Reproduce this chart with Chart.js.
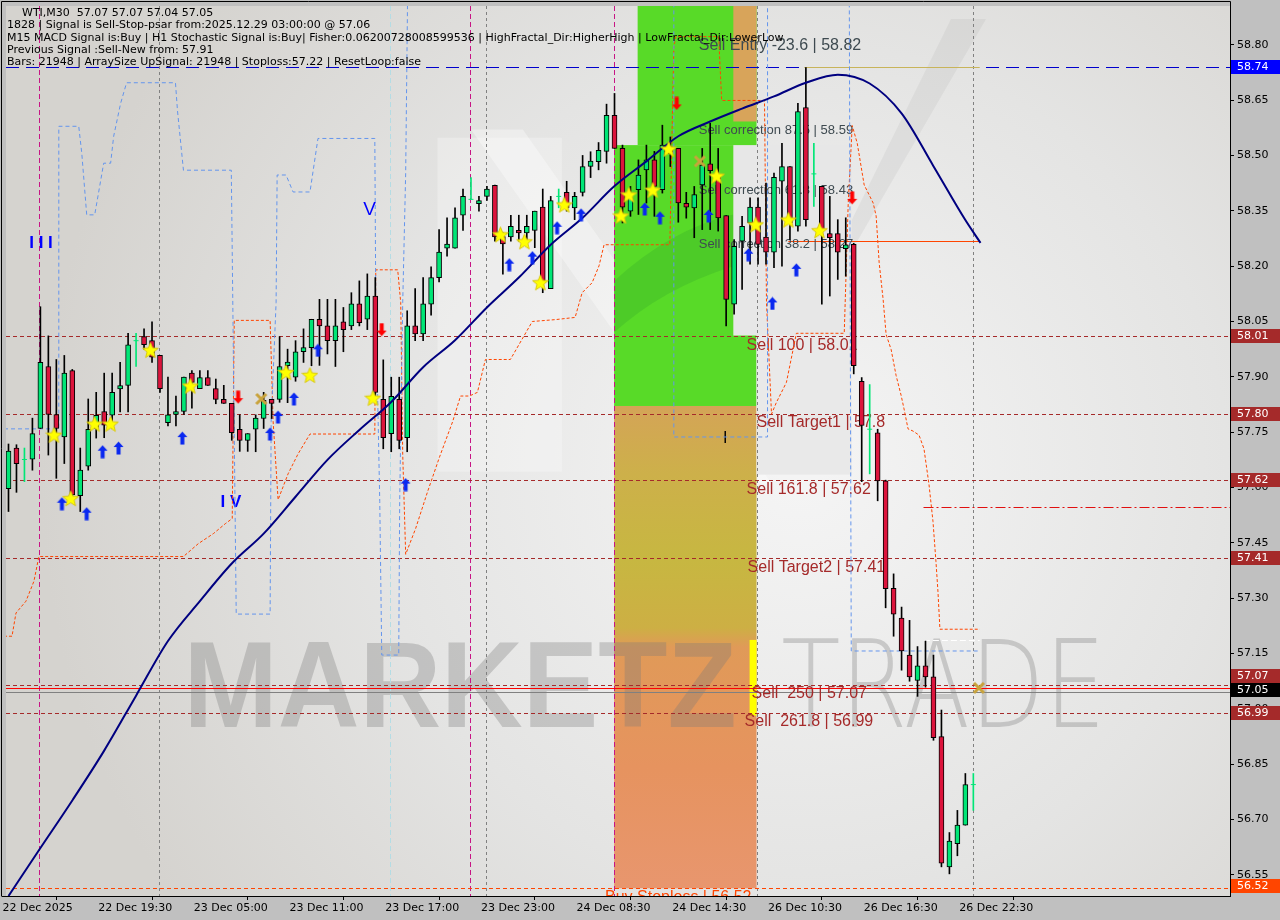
<!DOCTYPE html>
<html>
<head>
<meta charset="utf-8">
<script src="https://cdn.jsdelivr.net/npm/chart.js@4.4.0/dist/chart.umd.min.js"></script>
<style>
html, body { margin: 0; padding: 0; background: #c0c0c0; }
canvas { display: block; }
</style>
</head>
<body>
<canvas id="chart" width="1280" height="920"></canvas>
<script>
// axis ticks
const tickIndex = [0, 12, 24, 36, 48, 60, 72, 84, 96, 108, 120];
const timeLabels = ['22 Dec 2025', '22 Dec 19:30', '23 Dec 05:00', '23 Dec 11:00', '23 Dec 17:00', '23 Dec 23:00',
    '24 Dec 08:30', '24 Dec 14:30', '26 Dec 10:30', '26 Dec 16:30', '26 Dec 22:30'];
const priceTicks = [56.55, 56.70, 56.85, 57.00, 57.15, 57.30, 57.45, 57.60, 57.75, 57.90, 58.05, 58.20, 58.35, 58.50, 58.65, 58.80];

// WTI M30 candles
const opens = [57.597, 57.707, 57.676, 57.677, 57.760, 57.928, 57.798, 57.737, 57.917, 57.578,
    57.658, 57.760, 57.806, 57.796, 57.867, 57.877, 57.998, 58.009, 57.998, 57.958,
    57.776, 57.798, 57.806, 57.910, 57.868, 57.898, 57.868, 57.839, 57.828, 57.758,
    57.728, 57.758, 57.787, 57.839, 57.839, 57.930, 57.899, 57.968, 57.979, 58.056,
    58.038, 57.998, 58.049, 58.038, 58.098, 58.056, 58.119, 57.839, 57.746, 57.839,
    57.735, 58.038, 58.016, 58.097, 58.169, 58.249, 58.249, 58.338, 58.381, 58.369,
    58.389, 58.419, 58.280, 58.279, 58.297, 58.290, 58.297, 58.360, 58.139, 58.389,
    58.400, 58.358, 58.400, 58.470, 58.483, 58.511, 58.609, 58.519, 58.349, 58.407,
    58.461, 58.488, 58.407, 58.520, 58.519, 58.370, 58.358, 58.420, 58.477, 58.443,
    58.337, 58.097, 58.268, 58.317, 58.360, 58.279, 58.238, 58.430, 58.470, 58.308,
    58.630, 58.450, 58.416, 58.288, 58.288, 58.247, 58.259, 57.888, 57.758, 57.748,
    57.618, 57.327, 57.246, 57.146, 57.077, 57.117, 57.087, 56.925, 56.572, 56.635,
    56.685, 56.795];
const highs = [57.718, 57.716, 57.707, 57.788, 58.090, 58.011, 57.947, 57.958, 57.920, 57.707,
    57.840, 57.858, 57.910, 57.910, 57.939, 58.018, 58.018, 58.030, 58.049, 57.958,
    57.899, 57.848, 57.899, 57.917, 57.917, 57.917, 57.894, 57.877, 57.828, 57.797,
    57.746, 57.797, 57.858, 57.839, 58.009, 57.975, 57.998, 58.030, 58.056, 58.110,
    58.110, 58.110, 58.088, 58.128, 58.160, 58.179, 58.169, 57.946, 57.899, 57.899,
    58.079, 58.139, 58.169, 58.198, 58.299, 58.331, 58.358, 58.409, 58.440, 58.389,
    58.416, 58.420, 58.290, 58.338, 58.338, 58.338, 58.349, 58.409, 58.389, 58.409,
    58.430, 58.400, 58.500, 58.510, 58.535, 58.639, 58.668, 58.528, 58.416, 58.488,
    58.528, 58.511, 58.582, 58.550, 58.519, 58.400, 58.416, 58.519, 58.587, 58.519,
    58.337, 58.272, 58.335, 58.385, 58.385, 58.425, 58.452, 58.533, 58.470, 58.641,
    58.738, 58.533, 58.416, 58.389, 58.326, 58.331, 58.262, 57.898, 57.879, 57.758,
    57.620, 57.366, 57.276, 57.240, 57.169, 57.184, 57.146, 56.997, 56.665, 56.725,
    56.825, 56.825];
const lows = [57.535, 57.587, 57.616, 57.647, 57.760, 57.688, 57.625, 57.665, 57.565, 57.535,
    57.647, 57.734, 57.735, 57.760, 57.805, 57.805, 57.928, 57.975, 57.939, 57.858,
    57.767, 57.767, 57.798, 57.815, 57.868, 57.877, 57.827, 57.828, 57.728, 57.698,
    57.698, 57.697, 57.760, 57.787, 57.831, 57.830, 57.888, 57.939, 57.930, 57.931,
    57.962, 57.928, 57.968, 58.028, 58.038, 58.028, 57.840, 57.705, 57.697, 57.705,
    57.697, 57.998, 57.998, 58.067, 58.157, 58.227, 58.249, 58.297, 58.381, 58.349,
    58.378, 58.268, 58.178, 58.268, 58.268, 58.268, 58.250, 58.128, 58.139, 58.358,
    58.349, 58.326, 58.390, 58.440, 58.461, 58.479, 58.519, 58.317, 58.335, 58.340,
    58.371, 58.335, 58.398, 58.470, 58.319, 58.330, 58.277, 58.299, 58.299, 58.295,
    58.038, 58.070, 58.137, 58.205, 58.205, 58.205, 58.196, 58.200, 58.272, 58.295,
    58.308, 58.362, 58.097, 58.119, 58.164, 58.173, 57.908, 57.616, 57.637, 57.564,
    57.274, 57.197, 57.105, 57.075, 57.034, 57.059, 56.915, 56.572, 56.553, 56.602,
    56.685, 56.725];
const closes = [57.699, 57.665, 57.676, 57.746, 57.939, 57.798, 57.760, 57.910, 57.580, 57.647,
    57.758, 57.796, 57.769, 57.858, 57.876, 57.987, 57.998, 57.987, 57.953, 57.868,
    57.797, 57.806, 57.899, 57.885, 57.898, 57.877, 57.839, 57.828, 57.749, 57.728,
    57.746, 57.788, 57.836, 57.828, 57.928, 57.940, 57.968, 57.979, 58.056, 58.038,
    57.998, 58.038, 58.028, 58.098, 58.047, 58.119, 57.858, 57.735, 57.847, 57.728,
    58.038, 58.016, 58.098, 58.169, 58.238, 58.260, 58.331, 58.389, 58.381, 58.378,
    58.409, 58.279, 58.260, 58.308, 58.290, 58.308, 58.349, 58.155, 58.378, 58.389,
    58.358, 58.389, 58.470, 58.485, 58.514, 58.609, 58.519, 58.360, 58.385, 58.447,
    58.488, 58.416, 58.528, 58.505, 58.371, 58.360, 58.394, 58.474, 58.459, 58.331,
    58.110, 58.254, 58.308, 58.360, 58.259, 58.238, 58.441, 58.470, 58.317, 58.619,
    58.326, 58.450, 58.299, 58.277, 58.238, 58.258, 57.930, 57.768, 57.758, 57.618,
    57.326, 57.257, 57.157, 57.087, 57.117, 57.087, 56.922, 56.582, 56.642, 56.685,
    56.795, 56.795];

// moving average (bar index, price)
const maIndex = [0, 4, 8, 12, 16, 20, 24, 28, 32, 36, 40, 44, 48, 52, 56, 60, 64, 68, 72, 76,
    80, 84, 88, 92, 96, 100, 104, 108, 112, 116, 120, 121.9];
const maValues = [56.493, 56.623, 56.752, 56.887, 57.036, 57.184, 57.292, 57.394, 57.475, 57.575,
    57.675, 57.756, 57.832, 57.926, 57.999, 58.088, 58.169, 58.258, 58.331, 58.417,
    58.484, 58.552, 58.592, 58.627, 58.660, 58.697, 58.719, 58.695, 58.614, 58.471, 58.325, 58.263];

// fractal channel (blue dashed) and trailing stop (orange dashed), [bar index, price]
const blueBandA = [[-0.56, 57.759], [5.69, 57.759], [6.31, 57.759], [6.31, 58.579], [8.81, 58.579], [9.19, 58.506],
    [9.81, 58.339], [10.81, 58.339], [11.94, 58.479], [12.81, 58.479], [13.19, 58.552], [14.06, 58.641],
    [14.81, 58.697], [20.94, 58.697], [21.19, 58.622], [21.94, 58.460], [27.94, 58.460], [28.06, 58.236],
    [28.56, 57.257], [32.81, 57.257], [32.94, 57.778], [33.56, 58.101], [33.69, 58.447], [34.81, 58.447],
    [35.69, 58.401], [37.81, 58.401], [38.81, 58.546], [45.94, 58.546], [46.06, 58.101], [46.56, 57.562],
    [46.81, 57.146], [48.94, 57.146], [49.06, 57.562], [49.44, 58.101], [49.81, 58.452], [50.06, 58.95]];
const blueBandB = [[83.44, 58.95], [83.44, 57.737], [95.19, 57.737], [95.19, 58.95]];
const blueBandC = [[105.44, 58.95], [105.69, 57.157], [121.81, 57.157]];
const stopBand = [[-0.56, 57.197], [0.44, 57.197], [0.94, 57.260], [2.19, 57.292], [3.19, 57.346], [3.81, 57.413],
    [21.94, 57.413], [23.81, 57.448], [25.69, 57.475], [27.19, 57.502], [28.06, 57.516], [28.31, 58.053],
    [32.81, 58.053], [33.19, 57.778], [33.81, 57.567], [35.06, 57.637], [36.31, 57.691], [37.81, 57.745],
    [45.94, 57.745], [46.06, 58.190], [48.81, 58.190], [49.19, 58.101], [49.44, 57.689], [49.81, 57.419],
    [51.06, 57.489], [52.56, 57.589], [54.06, 57.683], [55.69, 57.778], [56.69, 57.848], [57.81, 57.848],
    [58.81, 57.858], [59.81, 57.947], [62.94, 57.947], [65.69, 58.050], [68.56, 58.055], [71.06, 58.061],
    [71.94, 58.128], [73.19, 58.155], [74.06, 58.201], [74.69, 58.258], [82.94, 58.258], [83.19, 58.533],
    [83.44, 58.795], [83.69, 58.822], [89.06, 58.822], [89.44, 58.649], [94.81, 58.649], [95.06, 58.101],
    [95.69, 57.799], [96.31, 57.831], [97.56, 57.885], [98.81, 58.018], [104.81, 58.018], [105.31, 58.371],
    [105.81, 58.581], [106.44, 58.533], [107.31, 58.420], [108.44, 58.371], [108.81, 58.336], [109.19, 58.209],
    [109.69, 58.109], [110.06, 58.015], [110.69, 57.974], [111.31, 57.904], [111.94, 57.850], [112.31, 57.813],
    [112.81, 57.759], [113.44, 57.753], [114.19, 57.742], [114.81, 57.705], [115.44, 57.608], [115.94, 57.508],
    [116.31, 57.400], [116.56, 57.319], [116.81, 57.216], [121.81, 57.216]];

// signal markers [bar index, price]
const starMarks = [[5.7, 57.742], [7.8, 57.570], [10.8, 57.772], [12.8, 57.772], [17.8, 57.972], [22.8, 57.875],
    [34.8, 57.912], [37.8, 57.904], [45.7, 57.842], [61.7, 58.285], [64.7, 58.266], [66.7, 58.155],
    [69.7, 58.366], [76.8, 58.336], [77.8, 58.393], [80.8, 58.406], [82.8, 58.517], [88.8, 58.444],
    [93.7, 58.312], [97.8, 58.325], [101.7, 58.296]];
const upArrows = [[6.7, 57.556], [9.8, 57.529], [11.8, 57.697], [13.8, 57.707], [21.8, 57.734], [32.8, 57.745],
    [33.8, 57.791], [35.8, 57.840], [38.8, 57.972], [49.8, 57.608], [62.8, 58.204], [65.7, 58.223],
    [68.8, 58.304], [71.8, 58.339], [79.8, 58.355], [81.7, 58.331], [87.8, 58.336], [92.8, 58.231],
    [95.8, 58.099], [98.8, 58.190]];
const downArrows = [[28.8, 57.845], [46.8, 58.028], [83.8, 58.641], [105.8, 58.385]];
const crossMarks = [[31.7, 57.840], [86.7, 58.484], [121.7, 57.057]];

// levels
const levelLines = [58.01, 57.80, 57.62, 57.41, 57.065, 56.99];
const entryLine = 58.74;
const stopLine = 56.514;
const bidLine = 57.046;
const redLine = 57.057;
const levelTexts = ['Sell Entry -23.6 | 58.82', 'Sell correction 87.5 | 58.59', 'Sell correction 61.8 | 58.43',
    'Sell correction 38.2 | 58.27', 'Sell 100 | 58.01', 'Sell Target1 | 57.8', 'Sell 161.8 | 57.62',
    'Sell Target2 | 57.41', 'Sell  250 | 57.07', 'Sell  261.8 | 56.99', 'Buy Stoploss | 56.52'];
const levelTextAt = [[86.56, 58.797], [86.56, 58.568], [86.56, 58.406], [86.56, 58.258], [92.56, 57.985],
    [93.81, 57.775], [92.56, 57.594], [92.69, 57.384], [93.19, 57.041], [92.31, 56.965], [74.81, 56.49]];
const axisBoxes = [58.74, 58.01, 57.80, 57.62, 57.41, 57.05, 57.07, 56.99, 56.52];
const headerLines = ['WTI,M30  57.07 57.07 57.04 57.05',
    '1828 | Signal is Sell-Stop-psar from:2025.12.29 03:00:00 @ 57.06',
    'M15 MACD Signal is:Buy | H1 Stochastic Signal is:Buy| Fisher:0.06200728008599536 | HighFractal_Dir:HigherHigh | LowFractal_Dir:LowerLow',
    'Previous Signal :Sell-New from: 57.91',
    'Bars: 21948 | ArraySize UpSignal: 21948 | Stoploss:57.22 | ResetLoop:false'];

const X_MIN = -0.3125, X_MAX = 153.1875, Y_MIN = 56.493, Y_MAX = 58.905;
const GREEN = '#00E676', RED = '#DC143C', LEVEL = '#A52A2A';

function pairs(arr) { return arr.map(p => ({ x: p[0], y: p[1] })); }

function makeStar() {
    const c = document.createElement('canvas');
    c.width = 17; c.height = 17;
    const g = c.getContext('2d');
    g.beginPath();
    for (let k = 0; k < 10; k++) {
        const a = -Math.PI / 2 + k * Math.PI / 5;
        const r = k % 2 ? 3.6 : 8.2;
        g.lineTo(8.5 + r * Math.cos(a), 9 + r * Math.sin(a));
    }
    g.closePath();
    g.fillStyle = '#FFFF00';
    g.fill();
    g.strokeStyle = '#D8C810';
    g.lineWidth = 1;
    g.stroke();
    return c;
}

function makeArrow(color, down) {
    const c = document.createElement('canvas');
    c.width = 11; c.height = 14;
    const g = c.getContext('2d');
    if (down) { g.translate(0, 14); g.scale(1, -1); }
    g.beginPath();
    g.moveTo(5.5, 0.5); g.lineTo(10.5, 6); g.lineTo(7.5, 6); g.lineTo(7.5, 13.5);
    g.lineTo(3.5, 13.5); g.lineTo(3.5, 6); g.lineTo(0.5, 6); g.closePath();
    g.fillStyle = color;
    g.fill();
    return c;
}

function makeCross() {
    const c = document.createElement('canvas');
    c.width = 14; c.height = 14;
    const g = c.getContext('2d');
    g.strokeStyle = '#C9A33C';
    g.lineWidth = 3;
    g.beginPath();
    g.moveTo(2, 2); g.lineTo(12, 12);
    g.moveTo(12, 2); g.lineTo(2, 12);
    g.stroke();
    return c;
}

const wickData = [], bodyData = [], wickColors = [], bodyColors = [], dojiData = [];
for (let i = 0; i < opens.length; i++) {
    const doji = opens[i] === closes[i];
    wickData.push({ x: i, y: [lows[i], highs[i]] });
    wickColors.push(doji ? GREEN : '#000000');
    if (doji) {
        bodyData.push({ x: i, y: null });
        dojiData.push({ x: i, y: opens[i] });
    } else {
        bodyData.push({ x: i, y: [opens[i], closes[i]] });
    }
    bodyColors.push(closes[i] >= opens[i] ? GREEN : RED);
}
const maData = maIndex.map((v, k) => ({ x: v, y: maValues[k] }));

function hLine(ctx, area, y, x0, x1, color, dash, width) {
    ctx.save();
    ctx.strokeStyle = color;
    ctx.lineWidth = width || 1;
    ctx.setLineDash(dash || []);
    const yy = Math.round(y) + 0.5;
    ctx.beginPath();
    ctx.moveTo(Math.max(x0, area.left), yy);
    ctx.lineTo(Math.min(x1, area.right), yy);
    ctx.stroke();
    ctx.restore();
}

function vLine(ctx, area, x, color, dash) {
    ctx.save();
    ctx.strokeStyle = color;
    ctx.lineWidth = 1;
    ctx.setLineDash(dash);
    const xx = Math.round(x) + 0.5;
    ctx.beginPath();
    ctx.moveTo(xx, area.top);
    ctx.lineTo(xx, area.bottom);
    ctx.stroke();
    ctx.restore();
}

const mt4Plugin = {
    id: 'mt4',
    beforeDraw(chart) {
        const { ctx, chartArea: a } = chart;
        ctx.save();
        ctx.fillStyle = '#C0C0C0';
        ctx.fillRect(0, 0, chart.width, chart.height);
        const g = ctx.createRadialGradient(800, 470, 20, 800, 470, 760);
        g.addColorStop(0, '#F4F4F4');
        g.addColorStop(0.55, '#E4E4E3');
        g.addColorStop(1, '#D5D3CF');
        ctx.fillStyle = g;
        ctx.fillRect(a.left, a.top, a.right - a.left, a.bottom - a.top);
        ctx.restore();
    },
    beforeDatasetsDraw(chart) {
        const { ctx, chartArea: a } = chart;
        const xs = chart.scales.x, ys = chart.scales.y;
        const X = v => xs.getPixelForValue(v), Y = v => ys.getPixelForValue(v);
        ctx.save();
        ctx.beginPath();
        ctx.rect(a.left, a.top, a.right - a.left, a.bottom - a.top);
        ctx.clip();

        const rect = (i0, i1, p0, p1, fill) => {
            ctx.fillStyle = fill;
            ctx.fillRect(X(i0), Y(p0), X(i1) - X(i0), Y(p1) - Y(p0));
        };
        // background logo hints
        rect(53.8, 69.4, 58.548, 57.643, 'rgba(255,255,255,0.28)');
        ctx.fillStyle = 'rgba(255,255,255,0.35)';
        ctx.beginPath();
        ctx.moveTo(X(58), Y(58.57)); ctx.lineTo(X(64.5), Y(58.57)); ctx.lineTo(X(95.7), Y(57.61)); ctx.lineTo(X(89.4), Y(57.61));
        ctx.closePath(); ctx.fill();
        ctx.fillStyle = 'rgba(150,150,150,0.12)';
        ctx.beginPath();
        ctx.moveTo(X(118.2), Y(58.87)); ctx.lineTo(X(122.6), Y(58.87)); ctx.lineTo(X(105.7), Y(58.24)); ctx.lineTo(X(103.8), Y(58.24));
        ctx.closePath(); ctx.fill();

        // signal zone
        const og = ctx.createLinearGradient(0, Y(57.821), 0, Y(56.514));
        og.addColorStop(0, '#D4A457');
        og.addColorStop(0.14, '#CDB04A');
        og.addColorStop(0.32, '#C7B741');
        og.addColorStop(0.46, '#CDAF44');
        og.addColorStop(0.5, '#E09A58');
        og.addColorStop(0.75, '#E6935F');
        og.addColorStop(1, '#E8966E');
        rect(75.95, 93.81, 57.821, 56.514, og);
        rect(78.9, 93.81, Y_MAX, 58.528, '#58DA28');
        rect(75.95, 93.81, 58.528, 57.821, '#58DA28');
        // darker crescent inside the green block
        ctx.fillStyle = 'rgba(40,150,40,0.22)';
        ctx.beginPath();
        ctx.moveTo(X(75.95), Y(58.16));
        ctx.quadraticCurveTo(X(83), Y(58.30), X(90.9), Y(58.34));
        ctx.lineTo(X(90.9), Y(58.20));
        ctx.quadraticCurveTo(X(82), Y(58.14), X(75.95), Y(58.02));
        ctx.closePath(); ctx.fill();
        rect(90.9, 93.81, Y_MAX, 58.592, '#D8A45A');
        rect(90.9, 105.75, 58.528, 58.012, '#E7E7E7');
        rect(93.81, 105.75, 58.012, 57.635, '#E9E9E9');
        rect(92.94, 93.81, 57.187, 56.982, '#FFFF00');

        // watermark
        ctx.fillStyle = 'rgba(120,120,120,0.32)';
        ctx.textBaseline = 'alphabetic';
        ctx.font = 'bold 122px "Liberation Sans", Arial, sans-serif';
        let w = ctx.measureText('MARKETZ').width;
        ctx.save();
        ctx.translate(X(21.94), Y(56.952));
        ctx.scale((X(91.3) - X(21.94)) / w, 1);
        ctx.fillText('MARKETZ', 0, 0);
        ctx.restore();
        ctx.font = '200 122px "DejaVu Sans", "Liberation Sans", sans-serif';
        w = ctx.measureText('TRADE').width;
        ctx.save();
        ctx.translate(X(96.9), Y(56.952));
        ctx.scale((X(137.6) - X(96.9)) / w, 1);
        ctx.fillText('TRADE', 0, 0);
        ctx.restore();

        // vertical separators
        [3.85, 57.85, 75.9].forEach(v => vLine(ctx, a, X(v), '#C71585', [5, 3]));
        [18.85, 59.85, 93.81, 120.9].forEach(v => vLine(ctx, a, X(v), '#808080', [3, 3]));
        vLine(ctx, a, X(47.85), '#B4DCE4', [5, 3]);

        // horizontal levels
        levelLines.forEach(p => hLine(ctx, a, Y(p), a.left, a.right, LEVEL, [4, 3]));
        hLine(ctx, a, Y(entryLine), a.left, a.right, '#0000CD', [13, 7]);
        hLine(ctx, a, Y(entryLine), X(99.8), X(121.8), '#C8B45A', []);
        hLine(ctx, a, Y(stopLine), a.left, a.right, '#FF4500', [4, 3]);
        hLine(ctx, a, Y(redLine), a.left, a.right, '#FF0000', []);
        hLine(ctx, a, Y(bidLine), a.left, a.right, '#808080', []);
        hLine(ctx, a, Y(58.268), X(97.8), X(121.8), '#FF4500', []);
        hLine(ctx, a, Y(57.548), X(114.75), a.right, '#E01010', [10, 3, 2, 3]);
        hLine(ctx, a, Y(57.186), X(114.8), X(121.8), '#FFFFFF', [6, 3]);

        // level captions
        ctx.textBaseline = 'middle';
        levelTexts.forEach((t, k) => {
            const [i, p] = levelTextAt[k];
            if (k === 0) { ctx.font = '16px "Liberation Sans", Arial, sans-serif'; ctx.fillStyle = '#3E4A50'; }
            else if (k < 4) { ctx.font = '13px "Liberation Sans", Arial, sans-serif'; ctx.fillStyle = '#3E4A50'; }
            else if (k === 10) { ctx.font = '16px "Liberation Sans", Arial, sans-serif'; ctx.fillStyle = '#FF4500'; }
            else { ctx.font = '16px "Liberation Sans", Arial, sans-serif'; ctx.fillStyle = LEVEL; }
            ctx.fillText(t, X(i), Y(p));
        });
        ctx.fillStyle = '#0000FF';
        ctx.font = 'bold 17px "Liberation Sans", Arial, sans-serif';
        ctx.fillText('I I I', X(2.6), Y(58.263));
        ctx.fillText('I V', X(26.6), Y(57.559));
        ctx.font = '19px "Liberation Sans", Arial, sans-serif';
        ctx.fillText('V', X(44.5), Y(58.352));
        ctx.fillStyle = '#000000';
        ctx.font = '16px "Liberation Sans", Arial, sans-serif';
        ctx.fillText('I', X(89.6), Y(57.732));
        ctx.restore();
    },
    afterDraw(chart) {
        const { ctx, chartArea: a } = chart;
        const ys = chart.scales.y;
        ctx.save();
        // header
        ctx.fillStyle = '#000000';
        ctx.font = '11px "DejaVu Sans", sans-serif';
        ctx.textBaseline = 'middle';
        const hx = [22, 7, 7, 7, 7], hy = [13, 25.5, 38, 50, 62];
        headerLines.forEach((t, k) => ctx.fillText(t, hx[k], hy[k]));

        // price boxes on the right axis
        const colors = ['#0000FF', LEVEL, LEVEL, LEVEL, LEVEL, '#000000', LEVEL, LEVEL, '#FF4500'];
        const shift = [0, 0, 0, 0, 0, 0, -7, 0, 0];
        axisBoxes.forEach((p, k) => {
            const y = Math.round(ys.getPixelForValue(p)) + shift[k];
            ctx.fillStyle = colors[k];
            ctx.fillRect(a.right + 1, y - 7, chart.width - a.right - 1, 14);
            ctx.fillStyle = '#FFFFFF';
            ctx.fillText(p.toFixed(2), a.right + 7, y + 0.5);
        });

        // frame
        ctx.strokeStyle = '#000000';
        ctx.lineWidth = 1;
        ctx.beginPath();
        ctx.moveTo(1.5, a.bottom); ctx.lineTo(1.5, 1.5); ctx.lineTo(a.right + 0.5, 1.5); ctx.lineTo(a.right + 0.5, a.bottom + 0.5);
        ctx.lineTo(1.5, a.bottom + 0.5);
        ctx.stroke();
        ctx.restore();
    }
};

const starImg = makeStar();
const upImg = makeArrow('#0A28F0', false);
const downImg = makeArrow('#FF0000', true);
const crossImg = makeCross();

const chart = new Chart(document.getElementById('chart'), {
    type: 'bar',
    data: {
        datasets: [
            { type: 'line', data: pairs(blueBandA), borderColor: '#6495ED', borderWidth: 1, borderDash: [4, 3], pointRadius: 0, order: 10 },
            { type: 'line', data: pairs(blueBandB), borderColor: '#6495ED', borderWidth: 1, borderDash: [4, 3], pointRadius: 0, order: 10 },
            { type: 'line', data: pairs(blueBandC), borderColor: '#6495ED', borderWidth: 1, borderDash: [4, 3], pointRadius: 0, order: 10 },
            { type: 'line', data: pairs(stopBand), borderColor: '#FF4500', borderWidth: 1, borderDash: [3, 2], pointRadius: 0, order: 10 },
            { type: 'bar', data: wickData, backgroundColor: wickColors, borderWidth: 0, barThickness: 1, grouped: false, order: 6 },
            { type: 'bar', data: bodyData, backgroundColor: bodyColors, borderColor: '#000000', borderWidth: 1,
              borderSkipped: false, barThickness: 5, grouped: false, order: 5 },
            { type: 'line', data: dojiData, showLine: false, pointStyle: 'line', pointRadius: 2.5,
              borderColor: GREEN, borderWidth: 1, order: 5 },
            { type: 'line', data: maData, borderColor: '#000080', borderWidth: 2, pointRadius: 0,
              cubicInterpolationMode: 'monotone', order: 3 },
            { type: 'line', data: pairs(starMarks), showLine: false, pointStyle: starImg, pointRadius: 5, order: 2 },
            { type: 'line', data: pairs(crossMarks), showLine: false, pointStyle: crossImg, pointRadius: 5, order: 2 },
            { type: 'line', data: pairs(upArrows), showLine: false, pointStyle: upImg, pointRadius: 5, order: 1 },
            { type: 'line', data: pairs(downArrows), showLine: false, pointStyle: downImg, pointRadius: 5, order: 1 }
        ]
    },
    options: {
        responsive: false,
        animation: false,
        devicePixelRatio: 1,
        layout: { padding: { left: 2, top: 2, right: 0, bottom: 0 } },
        plugins: { legend: { display: false }, tooltip: { enabled: false } },
        scales: {
            x: {
                type: 'linear', position: 'bottom', min: X_MIN, max: X_MAX, offset: false,
                afterBuildTicks: s => { s.ticks = tickIndex.map(v => ({ value: v })); },
                afterFit: s => { s.height = 24; s.paddingLeft = 0; s.paddingRight = 0; },
                ticks: {
                    autoSkip: false, maxRotation: 0, minRotation: 0, align: 'start', padding: 2, labelOffset: -6,
                    color: '#000000', font: { family: 'DejaVu Sans', size: 11 },
                    callback: v => { const k = tickIndex.indexOf(v); return k >= 0 ? timeLabels[k] : ''; }
                },
                grid: { drawOnChartArea: false, drawTicks: true, tickLength: 4, color: '#000000' },
                border: { display: true, color: '#000000' }
            },
            y: {
                type: 'linear', position: 'right', min: Y_MIN, max: Y_MAX,
                afterBuildTicks: s => { s.ticks = priceTicks.map(v => ({ value: v })); },
                afterFit: s => { s.width = 50; s.paddingTop = 0; s.paddingBottom = 0; },
                ticks: {
                    padding: 3, color: '#000000', font: { family: 'DejaVu Sans', size: 11 },
                    callback: v => Number(v).toFixed(2)
                },
                grid: { drawOnChartArea: false, drawTicks: true, tickLength: 4, color: '#000000' },
                border: { display: true, color: '#000000' }
            }
        }
    },
    plugins: [mt4Plugin]
});
</script>
</body>
</html>
